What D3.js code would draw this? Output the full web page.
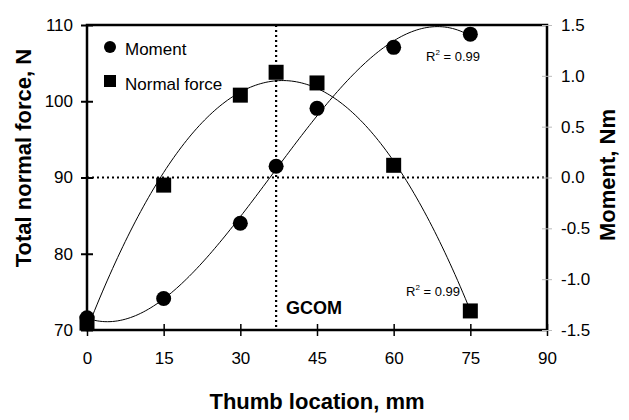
<!DOCTYPE html>
<html>
<head>
<meta charset="utf-8">
<script src="https://cdn.jsdelivr.net/npm/d3@7"></script>
<style>
  body { margin: 0; background: #fff; }
  svg { display: block; font-family: "Liberation Sans", Arial, sans-serif; }
</style>
</head>
<body>
<div id="chart"></div>
<script>
// datos
const posiciones = [0, 15, 30, 37, 45, 60, 75];          // mm
const momento = [-1.38, -1.19, -0.45, 0.11, 0.68, 1.28, 1.41]; // Nm
const fuerza = [70.9, 89.0, 100.8, 103.8, 102.4, 91.6, 72.5];   // N
const ticksX = [0, 15, 30, 45, 60, 75, 90];
const ticksFuerza = [70, 80, 90, 100, 110];
const ticksMomento = [-1.5, -1.0, -0.5, 0.0, 0.5, 1.0, 1.5];
const gcom = 37;

const width = 629, height = 420;
const margin = { top: 25, right: 82, bottom: 90, left: 87 };
const innerW = width - margin.left - margin.right;
const innerH = height - margin.top - margin.bottom;

const svg = d3.select("#chart").append("svg")
  .attr("width", width).attr("height", height);

const g = svg.append("g").attr("transform", `translate(${margin.left},${margin.top})`);

const x = d3.scaleLinear().domain([0, 90]).range([0, innerW]);
const yF = d3.scaleLinear().domain([70, 110]).range([innerH, 0]);
const yM = d3.scaleLinear().domain([-1.5, 1.5]).range([innerH, 0]);

// ajuste polinomico por minimos cuadrados
function ajustePoli(xs, ys, grado) {
  const n = grado + 1;
  const A = [];
  for (let i = 0; i < n; i++) {
    A.push(new Array(n + 1).fill(0));
    for (let j = 0; j < n; j++) A[i][j] = d3.sum(xs, (v) => Math.pow(v, i + j));
    A[i][n] = d3.sum(xs, (v, k) => ys[k] * Math.pow(v, i));
  }
  for (let c = 0; c < n; c++) {
    let p = c;
    for (let r = c + 1; r < n; r++) if (Math.abs(A[r][c]) > Math.abs(A[p][c])) p = r;
    [A[c], A[p]] = [A[p], A[c]];
    for (let r = 0; r < n; r++) {
      if (r === c) continue;
      const f = A[r][c] / A[c][c];
      for (let k = c; k <= n; k++) A[r][k] -= f * A[c][k];
    }
  }
  const coef = A.map((fila, i) => fila[n] / fila[i]);
  return (v) => coef.reduce((s, c, i) => s + c * Math.pow(v, i), 0);
}

const fitF = ajustePoli(posiciones, fuerza, 2);
const fitM = ajustePoli(posiciones, momento, 3);
const xsCurva = d3.range(0, 75.01, 0.5);

// lineas punteadas de referencia
g.append("line")
  .attr("x1", 0).attr("x2", innerW)
  .attr("y1", yF(90)).attr("y2", yF(90))
  .attr("stroke", "#000").attr("stroke-width", 2.2)
  .attr("stroke-dasharray", "2,3");
g.append("line")
  .attr("x1", x(gcom)).attr("x2", x(gcom))
  .attr("y1", 0).attr("y2", innerH)
  .attr("stroke", "#000").attr("stroke-width", 2.2)
  .attr("stroke-dasharray", "2,3");

// curvas de ajuste
g.append("path")
  .datum(xsCurva)
  .attr("fill", "none").attr("stroke", "#000").attr("stroke-width", 1)
  .attr("d", d3.line().x((d) => x(d)).y((d) => yF(fitF(d))));
g.append("path")
  .datum(xsCurva)
  .attr("fill", "none").attr("stroke", "#000").attr("stroke-width", 1)
  .attr("d", d3.line().x((d) => x(d)).y((d) => yM(fitM(d))));

// marcadores
const s = 15;
g.selectAll("rect.fuerza")
  .data(posiciones)
  .enter().append("rect")
  .attr("class", "fuerza")
  .attr("x", (d) => x(d) - s / 2)
  .attr("y", (d, i) => yF(fuerza[i]) - s / 2)
  .attr("width", s).attr("height", s)
  .attr("fill", "#000");
g.selectAll("circle.momento")
  .data(posiciones)
  .enter().append("circle")
  .attr("class", "momento")
  .attr("cx", (d) => x(d))
  .attr("cy", (d, i) => yM(momento[i]))
  .attr("r", 7.5)
  .attr("fill", "#000");

// marco
g.append("rect")
  .attr("width", innerW).attr("height", innerH)
  .attr("fill", "none").attr("stroke", "#000").attr("stroke-width", 2.5);

// ejes
const ejeX = g.append("g").attr("transform", `translate(0,${innerH})`)
  .call(d3.axisBottom(x).tickValues(ticksX).tickSize(0).tickPadding(22));
ejeX.select(".domain").remove();
ejeX.selectAll(".tick").append("line")
  .attr("y1", -6).attr("y2", 6).attr("stroke", "#000").attr("stroke-width", 1.5);

const ejeF = g.append("g")
  .call(d3.axisLeft(yF).tickValues(ticksFuerza).tickSize(0).tickPadding(14));
ejeF.select(".domain").remove();
ejeF.selectAll(".tick").append("line")
  .attr("x1", -6).attr("x2", 6).attr("stroke", "#000").attr("stroke-width", 2);

const fmt = d3.format(".1f");
const ejeM = g.append("g").attr("transform", `translate(${innerW},0)`)
  .call(d3.axisRight(yM).tickValues(ticksMomento).tickSize(0).tickPadding(14)
    .tickFormat((d) => fmt(d).replace("\u2212", "-")));
ejeM.select(".domain").remove();
ejeM.selectAll(".tick").append("line")
  .attr("x1", -5).attr("x2", 5).attr("stroke", "#bbb").attr("stroke-width", 1);

svg.selectAll(".tick text")
  .attr("font-size", 17).attr("font-family", "'Liberation Sans', Arial, sans-serif")
  .attr("fill", "#000");
ejeX.selectAll(".tick text").attr("dy", "0.71em");

// titulos de ejes
svg.append("text")
  .attr("x", margin.left + innerW / 2).attr("y", 409)
  .attr("text-anchor", "middle")
  .attr("font-size", 22).attr("font-weight", "bold")
  .text("Thumb location, mm");
svg.append("text")
  .attr("transform", "translate(31,158) rotate(-90)")
  .attr("text-anchor", "middle")
  .attr("font-size", 22).attr("font-weight", "bold")
  .text("Total normal force, N");
svg.append("text")
  .attr("transform", "translate(615,175) rotate(-90)")
  .attr("text-anchor", "middle")
  .attr("font-size", 22).attr("font-weight", "bold")
  .text("Moment, Nm");

// leyenda
const ley = svg.append("g");
ley.append("circle").attr("cx", 110).attr("cy", 47).attr("r", 6).attr("fill", "#000");
ley.append("text").attr("x", 125).attr("y", 55).attr("font-size", 17).text("Moment");
ley.append("rect").attr("x", 104).attr("y", 75).attr("width", 12).attr("height", 12).attr("fill", "#000");
ley.append("text").attr("x", 125).attr("y", 90).attr("font-size", 17).text("Normal force");

// anotaciones
function r2(xp, yp) {
  const t = svg.append("text").attr("x", xp).attr("y", yp).attr("font-size", 13);
  t.append("tspan").text("R");
  t.append("tspan").attr("font-size", 8).attr("dy", -6).text("2");
  t.append("tspan").attr("dy", 6).text(" = 0.99");
}
r2(426, 61);
r2(406, 296);

svg.append("text")
  .attr("x", 286).attr("y", 314)
  .attr("font-size", 18).attr("font-weight", "bold")
  .text("GCOM");
</script>
</body>
</html>
